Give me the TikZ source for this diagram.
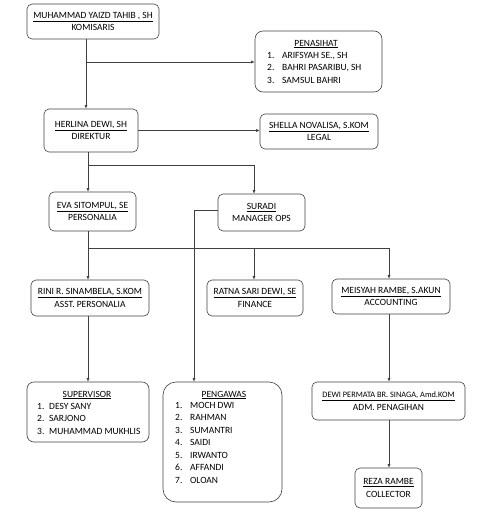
\documentclass[tikz,border=0pt]{standalone}
\usepackage{fontspec}
\setmainfont{Carlito}
\usetikzlibrary{arrows.meta}
\begin{document}
\begin{tikzpicture}[x=1pt,y=-1pt,
  box/.style={draw=black!75,line width=0.6pt,rounded corners=5pt,inner sep=0pt,align=center,
    font=\fontsize{9.5}{12.5}\selectfont},
  txt/.style={inner sep=0pt,align=left,font=\fontsize{9.5}{12.5}\selectfont},
  conn/.style={draw=black!75,line width=0.6pt},
  arr/.style={conn,-{Latex[length=3.5pt,width=3pt]}}]
\useasboundingbox (0,0) rectangle (486,514);
% boxes
\node[box,minimum width=132pt,minimum height=35pt] (kom) at (93,21.5) {\underline{MUHAMMAD YAIZD TAHIB , SH}\\KOMISARIS};
\node[box,rounded corners=8pt,minimum width=127pt,minimum height=61pt] (pen) at (318.5,61.5) {};
\node[box,minimum width=94pt,minimum height=43pt] (her) at (91,130.5) {\underline{HERLINA DEWI, SH}\\DIREKTUR};
\node[box,minimum width=118pt,minimum height=35pt] (she) at (319,131.5) {\underline{SHELLA NOVALISA, S.KOM}\\LEGAL};
\node[box,minimum width=87pt,minimum height=39pt] (eva) at (92.5,211.5) {\underline{EVA SITOMPUL, SE}\\PERSONALIA};
\node[box,minimum width=87pt,minimum height=37pt] (sur) at (261.5,212.5) {\underline{SURADI}\\MANAGER OPS};
\node[box,minimum width=118pt,minimum height=36pt] (rin) at (90,298) {\underline{RINI R. SINAMBELA, S.KOM}\\ASST. PERSONALIA};
\node[box,minimum width=96pt,minimum height=36pt] (rat) at (255,298) {\underline{RATNA SARI DEWI, SE}\\FINANCE};
\node[box,minimum width=118pt,minimum height=35pt] (mei) at (391,296.5) {\underline{MEISYAH RAMBE, S.AKUN}\\ACCOUNTING};
\node[box,rounded corners=7pt,minimum width=122pt,minimum height=60pt] (sup) at (88,412) {};
\node[box,rounded corners=13pt,minimum width=119pt,minimum height=120pt] (pgw) at (222.5,442) {};
\node[box,minimum width=153pt,minimum height=38pt] (dew) at (388.5,401) {{\fontsize{8.3}{12.5}\selectfont\underline{DEWI PERMATA BR. SINAGA, Amd.KOM}}\\ADM. PENAGIHAN};
\node[box,minimum width=67pt,minimum height=40pt] (rez) at (388.5,488) {\underline{REZA RAMBE}\\COLLECTOR};
% list texts
\node[txt,anchor=base] (pent) at (316,46) {\underline{PENASIHAT}};
\node[txt,anchor=north west] (penl) at (267,52) {\makebox[15pt][l]{1.}ARIFSYAH SE., SH\\\makebox[15pt][l]{2.}BAHRI PASARIBU, SH\\\makebox[15pt][l]{3.}SAMSUL BAHRI};
\node[txt,anchor=base] (supt) at (87,397) {\underline{SUPERVISOR}};
\node[txt,anchor=north west] (supl) at (37,403) {\makebox[12pt][l]{1.}DESY SANY\\\makebox[12pt][l]{2.}SARJONO\\\makebox[12pt][l]{3.}MUHAMMAD MUKHLIS};
\node[txt,anchor=base] (pgwt) at (224,397) {\underline{PENGAWAS}};
\node[txt,anchor=north west] (pgwl) at (175,402) {\makebox[15pt][l]{1.}MOCH DWI\\\makebox[15pt][l]{2.}RAHMAN\\\makebox[15pt][l]{3.}SUMANTRI\\\makebox[15pt][l]{4.}SAIDI\\\makebox[15pt][l]{5.}IRWANTO\\\makebox[15pt][l]{6.}AFFANDI\\\makebox[15pt][l]{7.}OLOAN};
% junctions
\coordinate (j1) at (86,62);
\coordinate (j2) at (88,165);
\coordinate (j3) at (254,165);
\coordinate (j4) at (194,210);
\coordinate (j5) at (88,248);
\coordinate (j7) at (254,248);
\coordinate (j6) at (389,248);
% connectors
\draw[arr] (kom.south -| j1) -- (her.north -| j1);
\draw[arr] (j1) -- (pen.west |- j1);
\draw[arr] (her.east) -- (she.west |- her.east);
\draw[conn] (her.south -| j2) -- (j2) -- (j3);
\draw[arr] (j2) -- (eva.north -| j2);
\draw[arr] (j3) -- (sur.north -| j3);
\draw[arr] (sur.west |- j4) -- (j4) -- (pgw.north -| j4);
\draw[conn] (eva.south -| j5) -- (j5) -- (j6);
\draw[arr] (j5) -- (rin.north -| j5);
\draw[arr] (j7) -- (rat.north -| j7);
\draw[arr] (j6) -- (mei.north -| j6);
\draw[arr] (rin.south -| j5) -- (sup.north -| j5);
\draw[arr] (mei.south -| j6) -- (dew.north -| j6);
\draw[arr] (dew.south -| j6) -- (rez.north -| j6);
\end{tikzpicture}
\end{document}
